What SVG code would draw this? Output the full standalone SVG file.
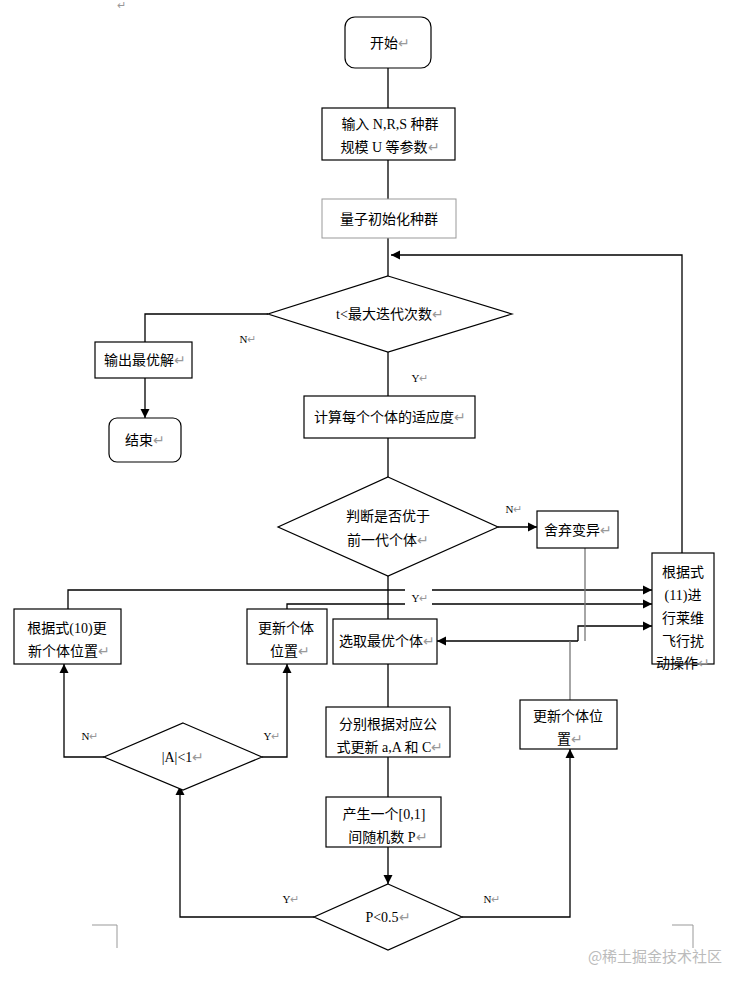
<svg xmlns="http://www.w3.org/2000/svg" width="749" height="989" viewBox="0 0 749 989">
<style>
.b{fill:#fff;stroke:#000;stroke-width:1.2}
.l{fill:none;stroke:#000;stroke-width:1.3}
.g{fill:none;stroke:#777;stroke-width:1.3}
text{font-family:"Liberation Serif","Noto Sans CJK SC",serif;font-size:14px;fill:#000;text-anchor:middle}
.s{font-size:11px}
.r{fill:#999}
</style>
<defs><marker id="a" viewBox="0 0 10 10" refX="10" refY="5" markerWidth="7" markerHeight="7" orient="auto"><path d="M0,0L10,5L0,10z"/></marker></defs>
<rect width="749" height="989" fill="#fff"/>
<text x="121" y="9" class="s r">↵</text>
<path d="M92 925H117V948M672 925H693V948" fill="none" stroke="#999"/>
<g id="connectors">
<path class="l" marker-end="url(#a)" d="M388 68V108M388 160V199M388 238V276M388 352V396M388 438V477M388 576V619M388 664V707M388 757V797M388 847V884"/>
<path class="l" marker-end="url(#a)" d="M268 314H145V342M145 378V418"/>
<path class="l" marker-end="url(#a)" d="M498 527H537"/>
<path class="l" marker-end="url(#a)" d="M682 553V255H391"/>
<path class="l" marker-end="url(#a)" d="M68 609V590H405M432 590H652"/>
<path class="l" marker-end="url(#a)" d="M287 609V604H405M432 604H652"/>
<path class="l" marker-end="url(#a)" d="M578 641H437"/>
<path class="l" marker-end="url(#a)" d="M578 641V626H652"/>
<path class="g" d="M585 548V641M570 641V700"/>
<path class="l" marker-end="url(#a)" d="M314 917H180V786"/>
<path class="l" marker-end="url(#a)" d="M462 917H570V749"/>
<path class="l" marker-end="url(#a)" d="M104 757H64V664"/>
<path class="l" marker-end="url(#a)" d="M262 757H287V664"/>
<text x="248" y="343" class="s">N<tspan class="r">↵</tspan></text>
<text x="420" y="382" class="s">Y<tspan class="r">↵</tspan></text>
<text x="514" y="513" class="s">N<tspan class="r">↵</tspan></text>
<text x="420" y="602" class="s">Y<tspan class="r">↵</tspan></text>
<text x="90" y="740" class="s">N<tspan class="r">↵</tspan></text>
<text x="272" y="740" class="s">Y<tspan class="r">↵</tspan></text>
<text x="291" y="903" class="s">Y<tspan class="r">↵</tspan></text>
<text x="492" y="903" class="s">N<tspan class="r">↵</tspan></text>
</g>
<g id="start"><rect class="b" x="345" y="17" width="86" height="51" rx="10"/><text x="390" y="48">开始<tspan class="r">↵</tspan></text></g>
<g id="input"><rect class="b" x="322" y="108" width="133" height="52"/><text x="390" y="129">输入 N,R,S 种群</text><text x="390" y="152">规模 U 等参数<tspan class="r">↵</tspan></text></g>
<g id="init"><rect x="322" y="199" width="134" height="39" fill="#fff" stroke="#999"/><text x="389" y="224">量子初始化种群</text></g>
<g id="cond1"><path class="b" d="M388 276L512 314L388 352L268 314Z"/><text x="390" y="319">t&lt;最大迭代次数<tspan class="r">↵</tspan></text></g>
<g id="output"><rect class="b" x="95" y="342" width="97" height="36"/><text x="145" y="365">输出最优解<tspan class="r">↵</tspan></text></g>
<g id="end"><rect class="b" x="109" y="418" width="72" height="44" rx="8"/><text x="145" y="445">结束<tspan class="r">↵</tspan></text></g>
<g id="fitness"><rect class="b" x="304" y="396" width="171" height="42"/><text x="390" y="422">计算每个个体的适应度<tspan class="r">↵</tspan></text></g>
<g id="cond2"><path class="b" d="M388 477L498 527L388 576L278 527Z"/><text x="388" y="521">判断是否优于</text><text x="388" y="545">前一代个体<tspan class="r">↵</tspan></text></g>
<g id="discard"><rect class="b" x="537" y="511" width="81" height="37"/><text x="578" y="535">舍弃变异<tspan class="r">↵</tspan></text></g>
<g id="levy"><rect class="b" x="652" y="553" width="62" height="111"/><text x="683" y="577">根据式</text><text x="683" y="600">(11)进</text><text x="683" y="623">行莱维</text><text x="683" y="646">飞行扰</text><text x="683" y="668">动操作<tspan class="r">↵</tspan></text></g>
<g id="upd10"><rect class="b" x="14" y="609" width="107" height="55"/><text x="67" y="633">根据式(10)更</text><text x="69" y="656">新个体位置<tspan class="r">↵</tspan></text></g>
<g id="upd1"><rect class="b" x="247" y="609" width="80" height="55"/><text x="286" y="633">更新个体</text><text x="290" y="656">位置<tspan class="r">↵</tspan></text></g>
<g id="best"><rect class="b" x="333" y="619" width="104" height="45"/><text x="387" y="646">选取最优个体<tspan class="r">↵</tspan></text></g>
<g id="upd2"><rect class="b" x="520" y="700" width="97" height="49"/><text x="568" y="721">更新个体位</text><text x="570" y="744">置<tspan class="r">↵</tspan></text></g>
<g id="coef"><rect class="b" x="326" y="707" width="124" height="50"/><text x="388" y="729">分别根据对应公</text><text x="390" y="752">式更新 a,A 和 C<tspan class="r">↵</tspan></text></g>
<g id="rand"><rect class="b" x="326" y="797" width="115" height="50"/><text x="384" y="819">产生一个[0,1]</text><text x="388" y="842">间随机数 P<tspan class="r">↵</tspan></text></g>
<g id="cond3"><path class="b" d="M183 723L262 757L183 790L104 757Z"/><text x="183" y="762">|A|&lt;1<tspan class="r">↵</tspan></text></g>
<g id="cond4"><path class="b" d="M388 884L462 917L388 950L314 917Z"/><text x="388" y="922">P&lt;0.5<tspan class="r">↵</tspan></text></g>
<text x="655" y="962" font-size="15" fill="#bbb" style="fill:#bbb;font-family:'Noto Sans CJK SC',sans-serif;font-size:15px">@稀土掘金技术社区</text>
</svg>
